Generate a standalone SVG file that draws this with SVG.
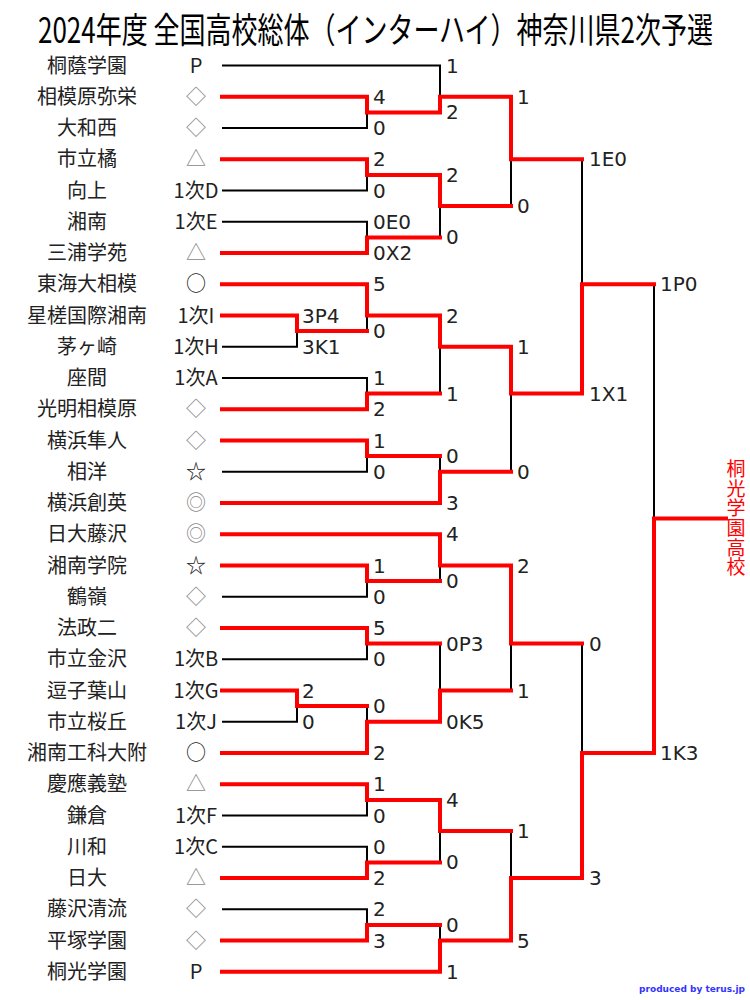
<svg xmlns="http://www.w3.org/2000/svg" width="750" height="1000" viewBox="0 0 750 1000">
<style>
.title{font-family:"Noto Sans CJK JP","Noto Sans CJK SC",sans-serif;font-size:35px;fill:#000}
.nm{font-family:"Noto Sans CJK JP",sans-serif;font-size:20px;fill:#222;text-anchor:middle}
.sd{font-family:"Noto Sans CJK JP",sans-serif;font-size:20px;fill:#222;text-anchor:middle}
.sym{fill:#888}
.sc{font-family:"DejaVu Sans","Noto Sans CJK JP",sans-serif;font-size:20px;fill:#222}
.bk{fill:none;stroke:#000;stroke-width:2}
.rd{fill:none;stroke:#ff0000;stroke-width:4;stroke-linejoin:miter;stroke-linecap:square}
.win{font-family:"Noto Sans CJK JP",sans-serif;font-size:19px;fill:#ff0000;writing-mode:vertical-rl;letter-spacing:0.6px}
.ft{font-family:"DejaVu Sans",sans-serif;font-size:9px;font-weight:bold;fill:#3333ff;text-anchor:end}
</style>
<rect width="750" height="1000" fill="#fff"/>
<text class="title" x="38" y="43" textLength="675" lengthAdjust="spacingAndGlyphs">2024年度 全国高校総体（インターハイ）神奈川県2次予選</text>

<g id="teams">
<g id="t0"><text class="nm" x="87" y="72.5">桐蔭学園</text><text class="sd" x="196" y="72.5">P</text></g>
<g id="t1"><text class="nm" x="87" y="103.75">相模原弥栄</text><text class="sd sym" x="196" y="103.75">◇</text></g>
<g id="t2"><text class="nm" x="87" y="135">大和西</text><text class="sd sym" x="196" y="135">◇</text></g>
<g id="t3"><text class="nm" x="87" y="166.25">市立橘</text><text class="sd sym" x="196" y="166.25">△</text></g>
<g id="t4"><text class="nm" x="87" y="197.5">向上</text><text class="sd" x="196" y="197.5">1次D</text></g>
<g id="t5"><text class="nm" x="87" y="228.75">湘南</text><text class="sd" x="196" y="228.75">1次E</text></g>
<g id="t6"><text class="nm" x="87" y="260">三浦学苑</text><text class="sd sym" x="196" y="260">△</text></g>
<g id="t7"><text class="nm" x="87" y="291.25">東海大相模</text><text class="sd" x="196" y="291.25">○</text></g>
<g id="t8"><text class="nm" x="87" y="322.5">星槎国際湘南</text><text class="sd" x="196" y="322.5">1次I</text></g>
<g id="t9"><text class="nm" x="87" y="353.75">茅ヶ崎</text><text class="sd" x="196" y="353.75">1次H</text></g>
<g id="t10"><text class="nm" x="87" y="385">座間</text><text class="sd" x="196" y="385">1次A</text></g>
<g id="t11"><text class="nm" x="87" y="416.25">光明相模原</text><text class="sd sym" x="196" y="416.25">◇</text></g>
<g id="t12"><text class="nm" x="87" y="447.5">横浜隼人</text><text class="sd sym" x="196" y="447.5">◇</text></g>
<g id="t13"><text class="nm" x="87" y="478.75">相洋</text><text class="sd" x="196" y="478.75">☆</text></g>
<g id="t14"><text class="nm" x="87" y="510">横浜創英</text><text class="sd sym" x="196" y="510">◎</text></g>
<g id="t15"><text class="nm" x="87" y="541.25">日大藤沢</text><text class="sd sym" x="196" y="541.25">◎</text></g>
<g id="t16"><text class="nm" x="87" y="572.5">湘南学院</text><text class="sd" x="196" y="572.5">☆</text></g>
<g id="t17"><text class="nm" x="87" y="603.75">鶴嶺</text><text class="sd sym" x="196" y="603.75">◇</text></g>
<g id="t18"><text class="nm" x="87" y="635">法政二</text><text class="sd sym" x="196" y="635">◇</text></g>
<g id="t19"><text class="nm" x="87" y="666.25">市立金沢</text><text class="sd" x="196" y="666.25">1次B</text></g>
<g id="t20"><text class="nm" x="87" y="697.5">逗子葉山</text><text class="sd" x="196" y="697.5">1次G</text></g>
<g id="t21"><text class="nm" x="87" y="728.75">市立桜丘</text><text class="sd" x="196" y="728.75">1次J</text></g>
<g id="t22"><text class="nm" x="87" y="760">湘南工科大附</text><text class="sd" x="196" y="760">○</text></g>
<g id="t23"><text class="nm" x="87" y="791.25">慶應義塾</text><text class="sd sym" x="196" y="791.25">△</text></g>
<g id="t24"><text class="nm" x="87" y="822.5">鎌倉</text><text class="sd" x="196" y="822.5">1次F</text></g>
<g id="t25"><text class="nm" x="87" y="853.75">川和</text><text class="sd" x="196" y="853.75">1次C</text></g>
<g id="t26"><text class="nm" x="87" y="885">日大</text><text class="sd sym" x="196" y="885">△</text></g>
<g id="t27"><text class="nm" x="87" y="916.25">藤沢清流</text><text class="sd sym" x="196" y="916.25">◇</text></g>
<g id="t28"><text class="nm" x="87" y="947.5">平塚学園</text><text class="sd sym" x="196" y="947.5">◇</text></g>
<g id="t29"><text class="nm" x="87" y="978.75">桐光学園</text><text class="sd" x="196" y="978.75">P</text></g>
</g>

<g id="connectors">
<g id="losers">
<path class="bk" d="M222,65.5H440V96.75"/>
<path class="bk" d="M222,128H367V112.4"/>
<path class="bk" d="M222,190.5H367V174.9"/>
<path class="bk" d="M222,221.75H367V237.4"/>
<path class="bk" d="M222,346.75H297V331.1"/>
<path class="bk" d="M367,331.1V315.5"/>
<path class="bk" d="M222,378H367V393.6"/>
<path class="bk" d="M222,471.75H367V456.1"/>
<path class="bk" d="M222,596.75H367V581.1"/>
<path class="bk" d="M222,659.25H367V643.6"/>
<path class="bk" d="M222,721.75H297V706.1"/>
<path class="bk" d="M367,706.1V721.75"/>
<path class="bk" d="M222,815.5H367V799.9"/>
<path class="bk" d="M222,846.75H367V862.4"/>
<path class="bk" d="M222,909.25H367V924.9"/>
<path class="bk" d="M440,237.4V206.1"/>
<path class="bk" d="M440,393.6V346.75"/>
<path class="bk" d="M440,456.1V471.75"/>
<path class="bk" d="M440,581.1V565.5"/>
<path class="bk" d="M440,643.6V690.5"/>
<path class="bk" d="M440,862.4V831.1"/>
<path class="bk" d="M440,924.9V940.5"/>
<path class="bk" d="M511,206.1V159.25"/>
<path class="bk" d="M511,471.75V393.6"/>
<path class="bk" d="M511,690.5V643.6"/>
<path class="bk" d="M511,831.1V878"/>
<path class="bk" d="M582,159.25V284.25"/>
<path class="bk" d="M582,643.6V753"/>
<path class="bk" d="M654,284.25V518.6"/>
</g>
<g id="winners">
<path class="rd" d="M222,96.75H367V112.4H440V96.75H511V159.25H582"/>
<path class="rd" d="M222,159.25H367V174.9H440V206.1H511"/>
<path class="rd" d="M222,253H367V237.4H440"/>
<path class="rd" d="M222,284.25H367V315.5H440V346.75H511V393.6H582V284.25H654"/>
<path class="rd" d="M222,315.5H297V331.1H367"/>
<path class="rd" d="M222,409.25H367V393.6H440"/>
<path class="rd" d="M222,440.5H367V456.1H440"/>
<path class="rd" d="M222,503H440V471.75H511"/>
<path class="rd" d="M222,534.25H440V565.5H511V643.6H582"/>
<path class="rd" d="M222,565.5H367V581.1H440"/>
<path class="rd" d="M222,628H367V643.6H440"/>
<path class="rd" d="M222,690.5H297V706.1H367"/>
<path class="rd" d="M222,753H367V721.75H440V690.5H511"/>
<path class="rd" d="M222,784.25H367V799.9H440V831.1H511"/>
<path class="rd" d="M222,878H367V862.4H440"/>
<path class="rd" d="M222,940.5H367V924.9H440"/>
<path class="rd" d="M222,971.75H440V940.5H511V878H582V753H654V518.6H726"/>
</g>
</g>

<g id="scores">
<text class="sc" x="302" y="322.5">3P4</text>
<text class="sc" x="302" y="353.75">3K1</text>
<text class="sc" x="302" y="697.5">2</text>
<text class="sc" x="302" y="728.75">0</text>

<text class="sc" x="373" y="103.75">4</text>
<text class="sc" x="373" y="135">0</text>
<text class="sc" x="373" y="166.25">2</text>
<text class="sc" x="373" y="197.5">0</text>
<text class="sc" x="373" y="228.75">0E0</text>
<text class="sc" x="373" y="260">0X2</text>
<text class="sc" x="373" y="291.25">5</text>
<text class="sc" x="373" y="338.1">0</text>
<text class="sc" x="373" y="385">1</text>
<text class="sc" x="373" y="416.25">2</text>
<text class="sc" x="373" y="447.5">1</text>
<text class="sc" x="373" y="478.75">0</text>
<text class="sc" x="373" y="572.5">1</text>
<text class="sc" x="373" y="603.75">0</text>
<text class="sc" x="373" y="635">5</text>
<text class="sc" x="373" y="666.25">0</text>
<text class="sc" x="373" y="713.1">0</text>
<text class="sc" x="373" y="760">2</text>
<text class="sc" x="373" y="791.25">1</text>
<text class="sc" x="373" y="822.5">0</text>
<text class="sc" x="373" y="853.75">0</text>
<text class="sc" x="373" y="885">2</text>
<text class="sc" x="373" y="916.25">2</text>
<text class="sc" x="373" y="947.5">3</text>

<text class="sc" x="446" y="72.5">1</text>
<text class="sc" x="446" y="119.4">2</text>
<text class="sc" x="446" y="181.9">2</text>
<text class="sc" x="446" y="244.4">0</text>
<text class="sc" x="446" y="322.5">2</text>
<text class="sc" x="446" y="400.6">1</text>
<text class="sc" x="446" y="463.1">0</text>
<text class="sc" x="446" y="510">3</text>
<text class="sc" x="446" y="541.25">4</text>
<text class="sc" x="446" y="588.1">0</text>
<text class="sc" x="446" y="650.6">0P3</text>
<text class="sc" x="446" y="728.75">0K5</text>
<text class="sc" x="446" y="806.9">4</text>
<text class="sc" x="446" y="869.4">0</text>
<text class="sc" x="446" y="931.9">0</text>
<text class="sc" x="446" y="978.75">1</text>

<text class="sc" x="517" y="103.75">1</text>
<text class="sc" x="517" y="213.1">0</text>
<text class="sc" x="517" y="353.75">1</text>
<text class="sc" x="517" y="478.75">0</text>
<text class="sc" x="517" y="572.5">2</text>
<text class="sc" x="517" y="697.5">1</text>
<text class="sc" x="517" y="838.1">1</text>
<text class="sc" x="517" y="947.5">5</text>

<text class="sc" x="589" y="166.25">1E0</text>
<text class="sc" x="589" y="400.6">1X1</text>
<text class="sc" x="589" y="650.6">0</text>
<text class="sc" x="589" y="885">3</text>

<text class="sc" x="660" y="291.25">1P0</text>
<text class="sc" x="660" y="760">1K3</text>
</g>

<g id="champion">
<text class="win" x="736" y="459.5">桐光学園高校</text>
</g>

<text class="ft" x="745" y="992">produced by terus.jp</text>
</svg>
